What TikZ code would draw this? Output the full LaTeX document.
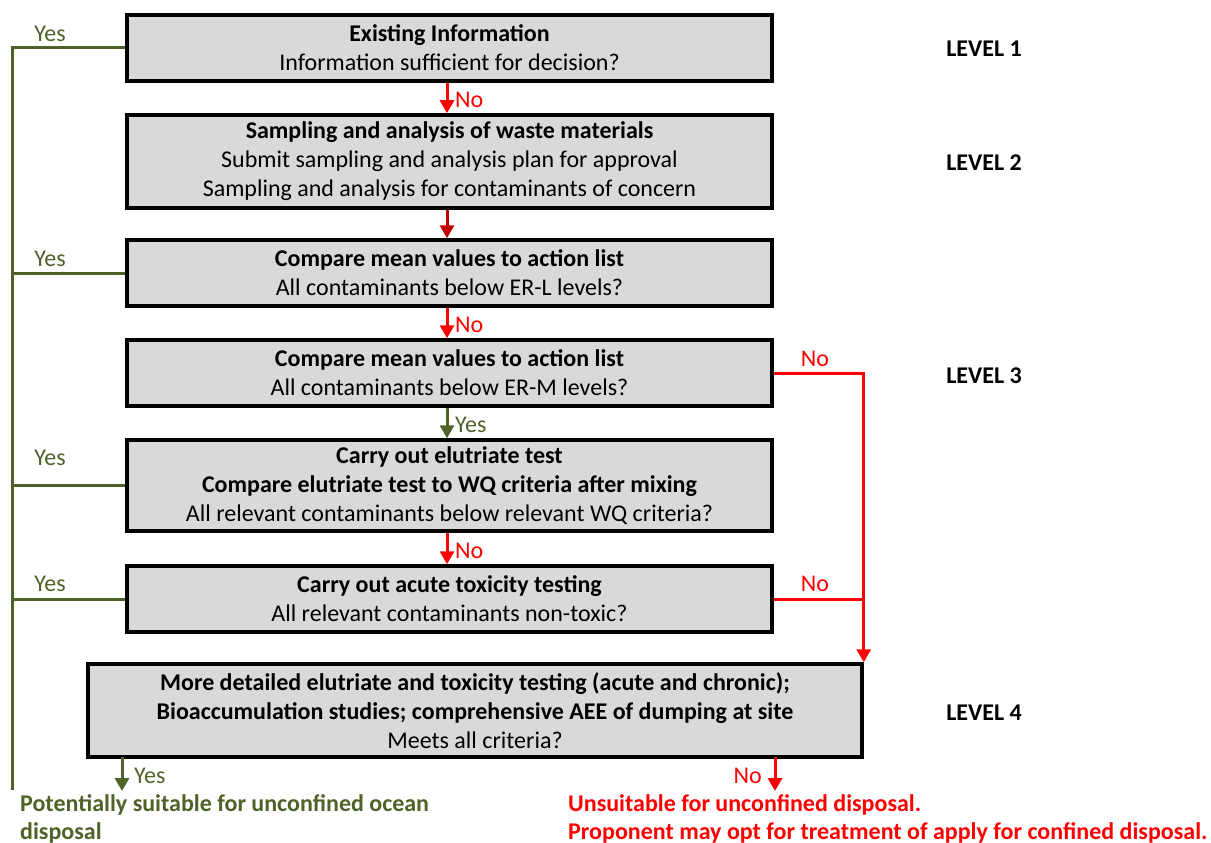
\documentclass[tikz,border=0pt]{standalone}
\usepackage{fontspec}
\setmainfont{Carlito}
\usetikzlibrary{arrows.meta,calc}
\definecolor{olv}{HTML}{4F6228}
\definecolor{rd}{HTML}{FF0000}
\definecolor{drd}{HTML}{C00000}
\definecolor{boxgray}{HTML}{D9D9D9}
\tikzset{
  stepbox/.style={draw=black,line width=3.5pt,fill=boxgray,align=center,inner sep=0pt,
    font=\fontsize{24}{29}\selectfont},
  lbl/.style={font=\fontsize{24}{28}\selectfont,inner sep=0pt},
  lvl/.style={font=\fontsize{24}{28}\selectfont\bfseries,inner sep=0pt},
  gline/.style={draw=olv,line width=3pt},
  rline/.style={draw=rd,line width=3pt},
  tip/.style={-{Triangle[width=14pt,length=13pt]}},
  outcome/.style={font=\fontsize{24}{28}\selectfont\bfseries,align=left,anchor=west,inner sep=0pt},
}
\begin{document}
\begin{tikzpicture}[x=1pt,y=-1pt]
\useasboundingbox (0,0) rectangle (1211,843);
% boxes
\node[stepbox,minimum width=645,minimum height=66] (b1) at (449.5,48)
  {\textbf{Existing Information}\\Information sufficient for decision?};
\node[stepbox,minimum width=645,minimum height=93] (b2) at (449.5,161.5)
  {\textbf{Sampling and analysis of waste materials}\\Submit sampling and analysis plan for approval\\Sampling and analysis for contaminants of concern};
\node[stepbox,minimum width=645,minimum height=66] (b3) at (449.5,273)
  {\textbf{Compare mean values to action list}\\All contaminants below ER-L levels?};
\node[stepbox,minimum width=645,minimum height=66] (b4) at (449.5,373)
  {\textbf{Compare mean values to action list}\\All contaminants below ER-M levels?};
\node[stepbox,minimum width=645,minimum height=91] (b5) at (449.5,485.5)
  {\textbf{Carry out elutriate test}\\\textbf{Compare elutriate test to WQ criteria after mixing}\\All relevant contaminants below relevant WQ criteria?};
\node[stepbox,minimum width=645,minimum height=66] (b6) at (449.5,599)
  {\textbf{Carry out acute toxicity testing}\\All relevant contaminants non-toxic?};
\node[stepbox,minimum width=774,minimum height=93] (b7) at (475,710.5)
  {\textbf{More detailed elutriate and toxicity testing (acute and chronic);}\\\textbf{Bioaccumulation studies; comprehensive AEE of dumping at site}\\Meets all criteria?};
% levels
\node[lvl] (l1) at (984,49) {LEVEL 1};
\node[lvl] (l2) at (984,163) {LEVEL 2};
\node[lvl] (l3) at (984,376) {LEVEL 3};
\node[lvl] (l4) at (984,713) {LEVEL 4};
% vertical arrows between boxes
\draw[rline,tip] ($(b1.south)+(-2.5,0)$) -- ($(b2.north)+(-2.5,0)$);
\node[lbl,text=rd,anchor=west] (n1) at (455,100) {No};
\draw[draw=drd,line width=3pt,tip] ($(b2.south)+(-2.5,0)$) -- ($(b3.north)+(-2.5,0)$);
\draw[rline,tip] ($(b3.south)+(-2.5,0)$) -- ($(b4.north)+(-2.5,0)$);
\node[lbl,text=rd,anchor=west] (n2) at (455,325) {No};
\draw[gline,tip] ($(b4.south)+(-2.5,0)$) -- ($(b5.north)+(-2.5,0)$);
\node[lbl,text=olv,anchor=west] (y1) at (455,425) {Yes};
\draw[rline,tip] ($(b5.south)+(-2.5,0)$) -- ($(b6.north)+(-2.5,0)$);
\node[lbl,text=rd,anchor=west] (n3) at (455,551) {No};
% green left bus
\coordinate (gt) at (12,48);
\coordinate (gb) at (12,790);
\draw[gline] (b1.west) -- (gt) -- (gb);
\draw[gline] (b3.west) -- (b3.west -| gt);
\draw[gline] (b5.west) -- (b5.west -| gt);
\draw[gline] (b6.west) -- (b6.west -| gt);
\node[lbl,text=olv] (ya) at (50,34) {Yes};
\node[lbl,text=olv] (yb) at (50,259) {Yes};
\node[lbl,text=olv] (yc) at (50,458) {Yes};
\node[lbl,text=olv] (yd) at (50,584) {Yes};
% red right bus
\draw[rline,tip] (b4.east) -| (b7.north east);
\draw[rline] (b6.east) -- (b6.east -| b7.north east);
\node[lbl,text=rd] (nr1) at (815,359) {No};
\node[lbl,text=rd] (nr2) at (815,584) {No};
% bottom outcomes
\coordinate (ya0) at (122,757);
\coordinate (ya1) at (122,791);
\draw[gline,tip] (ya0) -- (ya1);
\node[lbl,text=olv,anchor=west] (yy) at (134,776) {Yes};
\coordinate (na0) at (775,757);
\coordinate (na1) at (775,791);
\draw[rline,tip] (na0) -- (na1);
\node[lbl,text=rd,anchor=east] (nn) at (762,776) {No};
\node[outcome,text=olv] (ok) at (20,819)
  {Potentially suitable for unconfined ocean\\disposal};
\node[outcome,text=rd] (bad) at (568,819)
  {Unsuitable for unconfined disposal.\\Proponent may opt for treatment of apply for confined disposal.};
\end{tikzpicture}
\end{document}
